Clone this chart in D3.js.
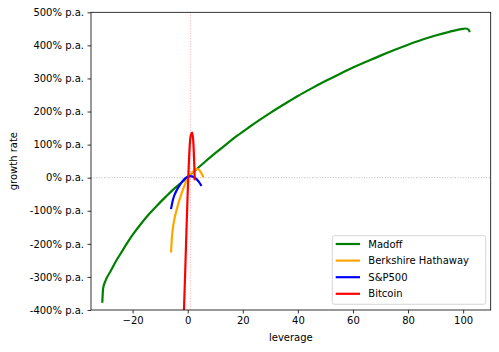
<!DOCTYPE html>
<meta charset="utf-8">
<style>
  body { margin: 0; background: #fff; }
  text { font-family: "DejaVu Sans", sans-serif; font-size: 10px; fill: #000; }
</style>
<script src="https://cdn.jsdelivr.net/npm/d3@7"></script>
<body>
<script>
// leverage (x) vs growth rate in % p.a. (y)
var madoffLev  = [-31, -30.7, -30, -28, -26, -24, -22, -20, -17, -14, -11, -8, -5, -2, 0, 3, 6, 10, 14, 18, 22, 26, 30, 35, 40, 45, 50, 55, 60, 65, 70, 75, 80, 85, 90, 95, 100, 101, 102, 102.4];
var madoffRate = [-378, -335, -315, -283, -252, -225, -198, -173, -140, -110, -83, -58, -34, -13, 2, 24, 46, 74, 101, 127, 151, 174, 196, 222, 247, 270, 292, 313, 333, 351, 369, 386, 402, 417, 430, 441, 450, 451, 447, 440];

var berkLev  = [-6.06, -5.7, -5, -4, -3, -2, -1, 0, 1, 2, 3, 3.7, 4.5, 5, 5.5, 5.7];
var berkRate = [-226, -178, -133, -97, -67, -42, -20, -2, 10, 19, 25, 26, 20, 13, 5, 1];

var spLev  = [-6.06, -5.5, -5, -4, -3, -2, -1, 0, 1, 2, 3, 4, 5];
var spRate = [-95, -72, -57, -38, -24, -12, -3, 3, 5, 3, -3, -12, -25];

var btcLev  = [-1.6, -1.35, -1.0, -0.5, 0, 0.4, 0.76, 1.2, 1.67, 2.1, 2.35, 2.5, 2.55];
var btcRate = [-470, -400, -310, -175, -45, 40, 100, 130, 136, 100, 50, 10, -8];

var seriesNames  = ["Madoff", "Berkshire Hathaway", "S&P500", "Bitcoin"];
var seriesColors = ["green", "orange", "blue", "red"];
var xTicks = [-20, 0, 20, 40, 60, 80, 100];
var yTicks = [-400, -300, -200, -100, 0, 100, 200, 300, 400, 500];

var series = [
  d3.zip(madoffLev, madoffRate),
  d3.zip(berkLev, berkRate),
  d3.zip(spLev, spRate),
  d3.zip(btcLev, btcRate)
];

var width = 499, height = 352;
var mLeft = 91, mRight = 490.7, mTop = 12.3, mBottom = 310;

var x = d3.scaleLinear().domain([-35.1, 110]).range([mLeft, mRight]);
var y = d3.scaleLinear().domain([-400, 500]).range([mBottom, mTop]);

var svg = d3.select("body").append("svg")
    .attr("width", width)
    .attr("height", height);

svg.append("defs").append("clipPath").attr("id", "plot")
  .append("rect")
    .attr("x", mLeft).attr("y", mTop)
    .attr("width", mRight - mLeft).attr("height", mBottom - mTop);

var plot = svg.append("g").attr("clip-path", "url(#plot)");

// reference lines
plot.append("line")
    .attr("x1", mLeft).attr("x2", mRight)
    .attr("y1", y(0)).attr("y2", y(0))
    .attr("stroke", "#999").attr("stroke-width", 0.7)
    .attr("stroke-dasharray", "1,1.6");
plot.append("line")
    .attr("x1", x(1)).attr("x2", x(1))
    .attr("y1", mTop).attr("y2", mBottom)
    .attr("stroke", "#ff9999").attr("stroke-width", 0.8)
    .attr("stroke-dasharray", "1,1.6");

var line = d3.line()
    .x(function(d) { return x(d[0]); })
    .y(function(d) { return y(d[1]); })
    .curve(d3.curveMonotoneX);

series.forEach(function(s, i) {
  plot.append("path")
      .attr("d", line(s))
      .attr("fill", "none")
      .attr("stroke", seriesColors[i])
      .attr("stroke-width", 2.2)
      .attr("stroke-linejoin", "round")
      .attr("stroke-linecap", "butt");
});

// axes
var xAxis = svg.append("g")
    .attr("transform", "translate(0," + mBottom + ")")
    .call(d3.axisBottom(x).tickValues(xTicks).tickSize(3.5).tickPadding(3.5)
      .tickFormat(function(d) { return d < 0 ? "\u2212" + Math.abs(d) : d; }));
var yAxis = svg.append("g")
    .attr("transform", "translate(" + mLeft + ",0)")
    .call(d3.axisLeft(y).tickValues(yTicks).tickSize(3.5).tickPadding(3.5)
      .tickFormat(function(d) { return d + "% p.a."; }));

[xAxis, yAxis].forEach(function(a) {
  a.select(".domain").remove();
  a.selectAll(".tick line").attr("stroke", "#000").attr("stroke-width", 0.8);
  a.selectAll(".tick text").attr("font-family", "DejaVu Sans").attr("font-size", 10).attr("fill", "#000");
});

// spines
svg.append("rect")
    .attr("x", mLeft).attr("y", mTop)
    .attr("width", mRight - mLeft).attr("height", mBottom - mTop)
    .attr("fill", "none").attr("stroke", "#000").attr("stroke-width", 0.8);

svg.append("text")
    .attr("x", (mLeft + mRight) / 2).attr("y", 340.5)
    .attr("text-anchor", "middle")
    .text("leverage");
svg.append("text")
    .attr("transform", "translate(17," + (mTop + mBottom) / 2 + ") rotate(-90)")
    .attr("text-anchor", "middle")
    .text("growth rate");

// legend
var lg = svg.append("g");
lg.append("rect")
    .attr("x", 332.3).attr("y", 235.7)
    .attr("width", 153.4).attr("height", 68.6)
    .attr("rx", 2)
    .attr("fill", "#fff").attr("fill-opacity", 0.8)
    .attr("stroke", "#ccc").attr("stroke-width", 0.8);
seriesNames.forEach(function(name, i) {
  var yy = 244 + i * 16.6;
  lg.append("line")
      .attr("x1", 335.7).attr("x2", 360)
      .attr("y1", yy).attr("y2", yy)
      .attr("stroke", seriesColors[i]).attr("stroke-width", 2.2);
  lg.append("text")
      .attr("x", 368.3).attr("y", yy + 3.6)
      .text(name);
});
</script>
</body>
